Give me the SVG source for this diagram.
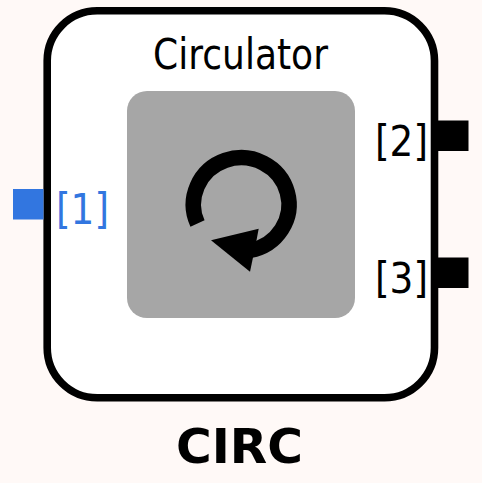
<svg xmlns="http://www.w3.org/2000/svg" width="482" height="483" viewBox="0 0 482 483">
<style>
text{font-family:"DejaVu Sans",sans-serif;fill:#000}
.lbl{font-size:43px}
.blk{fill:#000}
</style>
<rect width="482" height="483" fill="#fff9f7"/>
<g id="circ">
<rect x="47.2" y="10.8" width="387.3" height="387" rx="50" ry="50" fill="#fff" stroke="#000" stroke-width="7.6"/>
<text class="lbl" x="153" y="69" textLength="175" lengthAdjust="spacingAndGlyphs">Circulator</text>
<rect x="127" y="91" width="228" height="227" rx="20" ry="20" fill="#a6a6a6"/>
<path d="M197.5 223.5A47.8 46.8 0 1 1 250 250.5" fill="none" stroke="#000" stroke-width="15.5"/>
<path class="blk" d="M211 240.3L258.7 228.7L256 243L250 271.7Z"/>
<text x="176" y="462.5" font-size="48" font-weight="bold" textLength="127" lengthAdjust="spacingAndGlyphs">CIRC</text>
</g>
<g id="port1">
<rect x="13" y="189" width="30.5" height="30.5" fill="#3276e0"/>
<text class="lbl" x="56" y="223.5" style="fill:#3276e0" textLength="53" lengthAdjust="spacingAndGlyphs">[1]</text>
</g>
<g id="port2">
<rect class="blk" x="438" y="120.5" width="30.5" height="30.5"/>
<text class="lbl" x="375" y="156" textLength="53" lengthAdjust="spacingAndGlyphs">[2]</text>
</g>
<g id="port3">
<rect class="blk" x="438" y="257.5" width="30.5" height="30.5"/>
<text class="lbl" x="375" y="292.5" textLength="53" lengthAdjust="spacingAndGlyphs">[3]</text>
</g>
<g id="connectors"/>
</svg>
